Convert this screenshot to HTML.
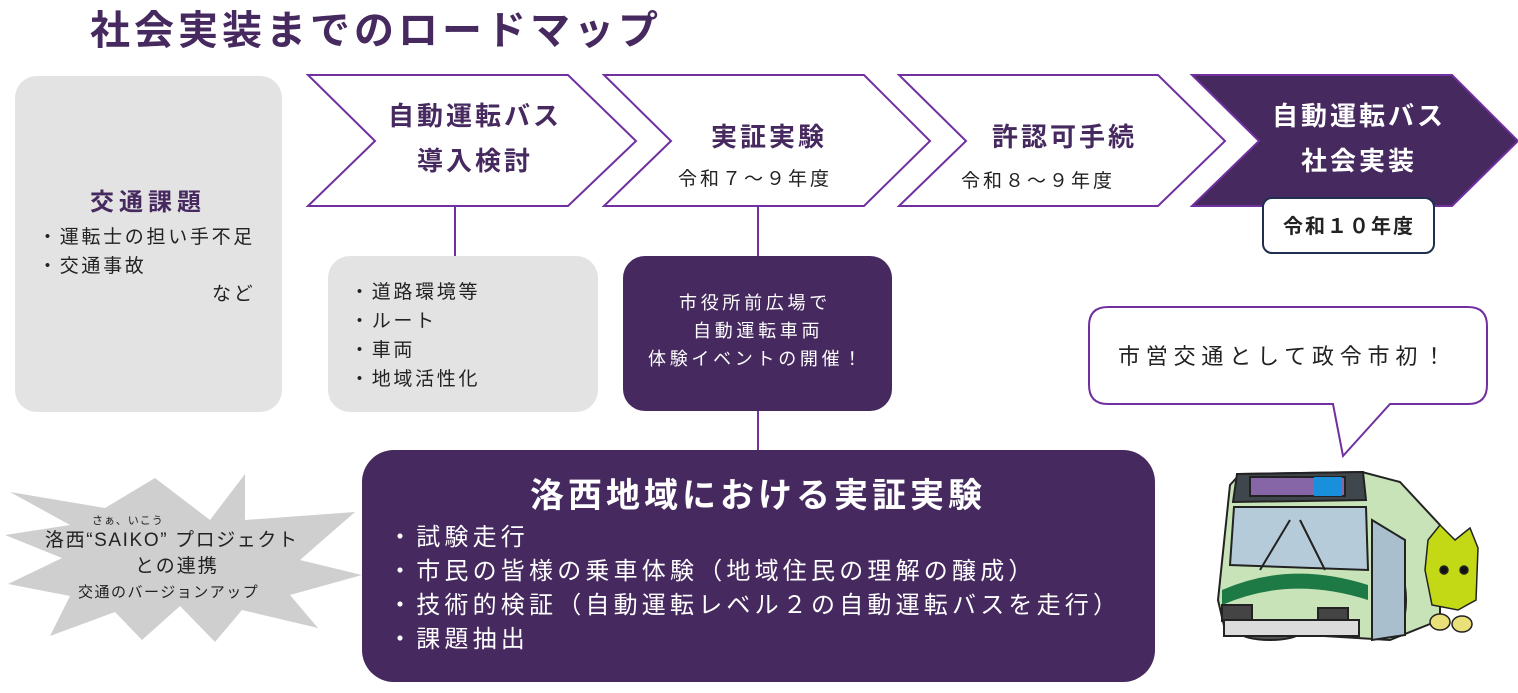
<!DOCTYPE html>
<html><head><meta charset="utf-8"><style>
body{margin:0;width:1518px;height:693px;background:#fff;overflow:hidden;font-family:"Liberation Sans","Noto Sans CJK JP",sans-serif}
svg{position:absolute;left:0;top:0}
.t{font-family:"Liberation Sans","Noto Sans CJK JP",sans-serif}
</style></head><body>
<svg width="1518" height="693" viewBox="0 0 1518 693">
<text x="90" y="44" font-size="40" font-weight="bold" fill="#46295f" letter-spacing="4" class="t">社会実装までのロードマップ</text>
<rect x="15" y="76" width="267" height="336" rx="22" fill="#e4e3e4"/>
<text x="90" y="210" font-size="24" font-weight="bold" fill="#46295f" letter-spacing="5" class="t">交通課題</text>
<g font-size="19" fill="#222" letter-spacing="2.7" class="t">
<text x="38" y="243">・運転士の担い手不足</text>
<text x="38" y="272">・交通事故</text>
<text x="212" y="300">など</text></g>
<g fill="#fff" stroke="#7030a0" stroke-width="2">
<polygon points="308,75 568,75 636,141 568,206 308,206 375,141"/>
<polygon points="604,75 864,75 930,141 864,206 604,206 671,141"/>
<polygon points="899,75 1158,75 1225,141 1158,206 899,206 966,141"/>
</g>
<polygon points="1192,75 1452,75 1518,141 1452,206 1192,206 1259,141" fill="#46295f" stroke="#7030a0" stroke-width="2"/>
<g font-size="26" font-weight="bold" fill="#46295f" letter-spacing="3" class="t">
<text x="388" y="125">自動運転バス</text>
<text x="417" y="170">導入検討</text>
<text x="711" y="146">実証実験</text>
<text x="992" y="146">許認可手続</text>
<text x="1272" y="125" fill="#fff">自動運転バス</text>
<text x="1301" y="170" fill="#fff">社会実装</text>
</g>
<g font-size="19" fill="#222" letter-spacing="3" class="t">
<text x="678" y="185">令和７～９年度</text>
<text x="961" y="187">令和８～９年度</text></g>
<rect x="1263" y="198" width="171" height="55" rx="9" fill="#fff" stroke="#1f2f4f" stroke-width="2"/>
<text x="1283" y="233" font-size="20" font-weight="bold" fill="#222" letter-spacing="2" class="t">令和１０年度</text>
<g stroke="#7030a0" stroke-width="2"><line x1="455" y1="206" x2="455" y2="257"/><line x1="758" y1="206" x2="758" y2="257"/><line x1="758" y1="410" x2="758" y2="450"/></g>
<rect x="328" y="256" width="270" height="156" rx="22" fill="#e4e3e4"/>
<g font-size="19" fill="#222" letter-spacing="2.7" class="t">
<text x="350" y="298">・道路環境等</text><text x="350" y="327">・ルート</text><text x="350" y="356">・車両</text><text x="350" y="385">・地域活性化</text></g>
<rect x="623" y="256" width="269" height="155" rx="22" fill="#46295f"/>
<g font-size="18" fill="#fff" letter-spacing="3.7" class="t">
<text x="679" y="309">市役所前広場で</text><text x="693" y="337">自動運転車両</text><text x="648" y="365">体験イベントの開催！</text></g>
<rect x="362" y="450" width="793" height="232" rx="32" fill="#46295f"/>
<text x="530" y="507" font-size="34" font-weight="bold" fill="#fff" letter-spacing="4" class="t">洛西地域における実証実験</text>
<g font-size="24" fill="#fff" letter-spacing="4.2" class="t">
<text x="388" y="545">・試験走行</text>
<text x="388" y="579">・市民の皆様の乗車体験（地域住民の理解の醸成）</text>
<text x="388" y="613">・技術的検証（自動運転レベル２の自動運転バスを走行）</text>
<text x="388" y="647">・課題抽出</text></g>
<polygon points="10,492 105,508 155,478 210,520 245,474 245,520 355,512 300,560 362,575 290,595 318,628 242,610 215,642 180,606 142,640 115,612 50,636 70,596 8,584 62,558 5,535 70,525" fill="#d0cfd0"/>
<text x="92" y="524" font-size="11" fill="#222" letter-spacing="1" class="t">さぁ、いこう</text>
<text x="45" y="546" font-size="19" fill="#222" letter-spacing="1.6" class="t">洛西“SAIKO” プロジェクト</text>
<text x="135" y="572" font-size="19" fill="#222" letter-spacing="2" class="t">との連携</text>
<text x="78" y="597" font-size="15" fill="#222" letter-spacing="1.5" class="t">交通のバージョンアップ</text>
<path d="M1108,307 H1468 Q1487,307 1487,326 V385 Q1487,404 1468,404 H1390 L1343,456 L1333,404 H1108 Q1089,404 1089,385 V326 Q1089,307 1108,307 Z" fill="#fff" stroke="#7030a0" stroke-width="2"/>
<text x="1118" y="364" font-size="22" fill="#222" letter-spacing="5.8" class="t">市営交通として政令市初！</text>
<g stroke="#222" stroke-width="2">
<ellipse cx="1270" cy="632" rx="30" ry="8" fill="#555"/>
<path d="M1240,474 L1362,472 L1400,482 L1440,525 L1440,620 L1390,640 L1225,630 L1218,600 L1230,485 Z" fill="#c8e3b8"/>
<path d="M1237,474 L1363,472 L1366,500 L1233,502 Z" fill="#3f464c"/>
<rect x="1250" y="477" width="95" height="19" fill="#8666a6"/>
<rect x="1314" y="477" width="28" height="19" fill="#1a8fdc" stroke="none"/>
<path d="M1234,507 L1366,507 L1368,570 L1230,565 Z" fill="#b6cbd9"/>
<path d="M1222,590 Q1290,560 1368,585 L1368,600 Q1290,575 1222,605 Z" fill="#1e7a45" stroke="none"/>
<rect x="1222" y="605" width="30" height="16" fill="#444"/><rect x="1318" y="608" width="30" height="16" fill="#444"/>
<rect x="1224" y="620" width="135" height="16" fill="#dcdcdc"/>
<ellipse cx="1392" cy="600" rx="14" ry="36" fill="#444"/>
<path d="M1372,520 L1405,540 L1405,635 L1372,640 Z" fill="#a9bfcd"/>
<line x1="1290" y1="520" x2="1260" y2="570"/><line x1="1300" y1="520" x2="1325" y2="570"/>
</g>
<g stroke="#222" stroke-width="1.5">
<path d="M1428,540 L1440,525 L1455,540 L1470,528 L1478,548 L1476,600 L1458,610 L1432,605 L1425,570 Z" fill="#c4d915"/>
<circle cx="1444" cy="570" r="4" fill="#111"/><circle cx="1464" cy="570" r="4" fill="#111"/>
<ellipse cx="1440" cy="622" rx="10" ry="8" fill="#e9e07a"/><ellipse cx="1462" cy="624" rx="10" ry="8" fill="#e9e07a"/>
</g>
</svg>
</body></html>
